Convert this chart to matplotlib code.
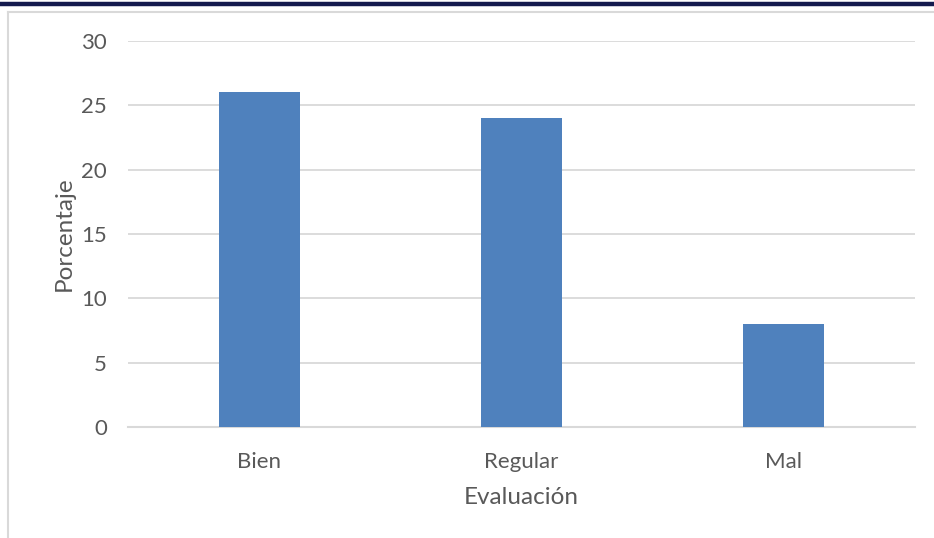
import matplotlib
matplotlib.use("Agg")
import matplotlib.pyplot as plt
from matplotlib.lines import Line2D

categories = ["Bien", "Regular", "Mal"]
values = [26, 24, 8]
yticks = [0, 5, 10, 15, 20, 25, 30]

W, H = 934, 538
fig = plt.figure(figsize=(W / 100, H / 100), dpi=100)
plt.rcParams['font.family'] = ['Lato', 'DejaVu Sans']
text_color = "#595959"
grid_color = "#d9d9d9"

# page decoration: navy rule on top, light chart frame below
fig.add_artist(Line2D([0, 1], [1 - 4 / H, 1 - 4 / H], color="#141a4e", lw=3.2,
                      transform=fig.transFigure))
fig.add_artist(Line2D([7.5 / W, 1], [1 - 11.5 / H, 1 - 11.5 / H], color=grid_color, lw=1.5,
                      transform=fig.transFigure))
fig.add_artist(Line2D([7.5 / W, 7.5 / W], [0, 1 - 11.5 / H], color=grid_color, lw=1.5,
                      transform=fig.transFigure))

left, right = 128 / W, 915 / W
bottom, top = 1 - 427 / H, 1 - 41 / H
ax = fig.add_axes([left, bottom, right - left, top - bottom])

x = range(len(categories))
ax.bar(x, values, width=0.31, color="#4f81bd", zorder=3)
ax.set_xlim(-0.5, len(categories) - 0.5)
ax.set_ylim(0, 30)
ax.set_yticks(yticks)
ax.set_xticks(list(x))
ax.set_xticklabels(categories)
ax.yaxis.grid(True, color=grid_color, lw=1.3, zorder=0)
ax.set_axisbelow(True)
for s in ["top", "right", "left"]:
    ax.spines[s].set_visible(False)
ax.spines["bottom"].set_color(grid_color)
ax.spines["bottom"].set_linewidth(1.5)
ax.tick_params(axis="both", length=0, labelsize=16, colors=text_color)
ax.tick_params(axis="y", pad=15)
ax.tick_params(axis="x", pad=18)
ax.set_ylabel("Porcentaje", fontsize=17.5, color=text_color, labelpad=5)
ax.set_xlabel("Evaluación", fontsize=17.5, color=text_color, labelpad=11)

fig.savefig("out.png", dpi=100)
